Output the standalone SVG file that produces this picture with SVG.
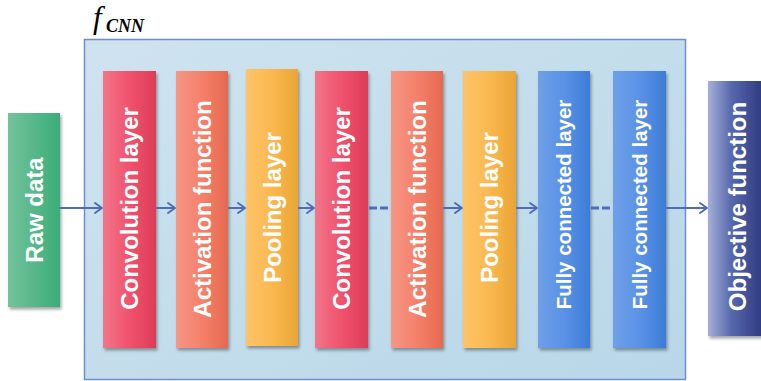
<svg xmlns="http://www.w3.org/2000/svg" width="761" height="381" viewBox="0 0 761 381">
  <defs>
    <linearGradient id="gFrame" x1="0" y1="0" x2="1" y2="1">
      <stop offset="0" stop-color="#cfe3ef"/>
      <stop offset="1" stop-color="#b8d7e8"/>
    </linearGradient>
    <linearGradient id="gGreen" x1="0" y1="0" x2="1" y2="0">
      <stop offset="0" stop-color="#74c39b"/>
      <stop offset="1" stop-color="#3aad79"/>
    </linearGradient>
    <linearGradient id="gConv" x1="0" y1="0" x2="1" y2="0">
      <stop offset="0" stop-color="#f2768a"/>
      <stop offset="0.5" stop-color="#f0526d"/>
      <stop offset="1" stop-color="#dd3c58"/>
    </linearGradient>
    <linearGradient id="gAct" x1="0" y1="0" x2="1" y2="0">
      <stop offset="0" stop-color="#f59785"/>
      <stop offset="0.5" stop-color="#f5806a"/>
      <stop offset="1" stop-color="#e5694f"/>
    </linearGradient>
    <linearGradient id="gPool" x1="0" y1="0" x2="1" y2="0">
      <stop offset="0" stop-color="#fec468"/>
      <stop offset="0.5" stop-color="#fbb850"/>
      <stop offset="1" stop-color="#e9a534"/>
    </linearGradient>
    <linearGradient id="gFC" x1="0" y1="0" x2="1" y2="0">
      <stop offset="0" stop-color="#6fa0e8"/>
      <stop offset="0.5" stop-color="#5a92e6"/>
      <stop offset="1" stop-color="#3d7cd6"/>
    </linearGradient>
    <linearGradient id="gObj" x1="0" y1="0" x2="1" y2="0">
      <stop offset="0" stop-color="#a5afd8"/>
      <stop offset="0.4" stop-color="#5868ad"/>
      <stop offset="1" stop-color="#28357a"/>
    </linearGradient>
    <filter id="shadow" x="-20%" y="-10%" width="150%" height="125%">
      <feDropShadow dx="1.5" dy="2.5" stdDeviation="1.5" flood-color="#000" flood-opacity="0.35"/>
    </filter>
    <marker id="arrow" markerUnits="userSpaceOnUse" markerWidth="12" markerHeight="14" refX="9" refY="7" orient="auto">
      <path d="M2,2 L9,7 L2,12" fill="none" stroke="#4f6cbc" stroke-width="2" stroke-linecap="round" stroke-linejoin="round"/>
    </marker>
  </defs>
  <style>
    .lbl { font-family: "Liberation Sans", Arial, sans-serif; font-weight: bold; font-size: 24px; fill: #ffffff; text-anchor: middle; }
    .fc { font-size: 20.5px; }
    .box { filter: url(#shadow); }
    .conn { stroke: #4f6cbc; stroke-width: 2; fill: none; }
    .dash { stroke-width: 3; stroke-dasharray: 8 3; }
  </style>

  <g id="frame">
    <rect x="84.5" y="39.5" width="601" height="340" fill="url(#gFrame)" stroke="#6f8fc9" stroke-width="1.5"/>
    <text x="93" y="28" font-family="Liberation Serif, 'Times New Roman', serif" font-style="italic" font-size="31" fill="#000">f</text>
    <text x="106" y="32" font-family="Liberation Serif, 'Times New Roman', serif" font-style="italic" font-weight="bold" font-size="18" fill="#000">CNN</text>
  </g>

  <g id="raw-data">
    <rect class="box" x="8" y="113" width="52" height="194" fill="url(#gGreen)"/>
    <text class="lbl" transform="translate(34,210) rotate(-90)" dy="8.5">Raw data</text>
  </g>
  <g id="conv1">
    <rect class="box" x="103" y="71" width="53" height="277" fill="url(#gConv)"/>
    <text class="lbl" transform="translate(129.5,208.5) rotate(-90)" dy="8.5">Convolution layer</text>
  </g>
  <g id="act1">
    <rect class="box" x="176" y="71" width="52" height="277" fill="url(#gAct)"/>
    <text class="lbl" transform="translate(202,209) rotate(-90)" dy="8.5">Activation function</text>
  </g>
  <g id="pool1">
    <rect class="box" x="246" y="69" width="52" height="277" fill="url(#gPool)"/>
    <text class="lbl" transform="translate(272,207.5) rotate(-90)" dy="8.5">Pooling layer</text>
  </g>
  <g id="conv2">
    <rect class="box" x="315" y="71" width="53" height="277" fill="url(#gConv)"/>
    <text class="lbl" transform="translate(341.5,208.5) rotate(-90)" dy="8.5">Convolution layer</text>
  </g>
  <g id="act2">
    <rect class="box" x="391" y="71" width="52" height="277" fill="url(#gAct)"/>
    <text class="lbl" transform="translate(417,209) rotate(-90)" dy="8.5">Activation function</text>
  </g>
  <g id="pool2">
    <rect class="box" x="463" y="71" width="53" height="277" fill="url(#gPool)"/>
    <text class="lbl" transform="translate(489.5,207.5) rotate(-90)" dy="8.5">Pooling layer</text>
  </g>
  <g id="fc1">
    <rect class="box" x="538" y="71" width="52" height="277" fill="url(#gFC)"/>
    <text class="lbl fc" transform="translate(564,204.5) rotate(-90)" dy="7.3">Fully connected layer</text>
  </g>
  <g id="fc2">
    <rect class="box" x="613" y="71" width="53" height="277" fill="url(#gFC)"/>
    <text class="lbl fc" transform="translate(639.5,204.5) rotate(-90)" dy="7.3">Fully connected layer</text>
  </g>
  <g id="objective">
    <rect class="box" x="708" y="81" width="58" height="255" fill="url(#gObj)"/>
    <text class="lbl" transform="translate(737,206.5) rotate(-90)" dy="8.5">Objective function</text>
  </g>

  <g id="connectors">
    <line class="conn" x1="60" y1="208" x2="102" y2="208" marker-end="url(#arrow)"/>
    <line class="conn" x1="156" y1="208" x2="175" y2="208" marker-end="url(#arrow)"/>
    <line class="conn" x1="228" y1="208" x2="245" y2="208" marker-end="url(#arrow)"/>
    <line class="conn" x1="298" y1="208" x2="314" y2="208" marker-end="url(#arrow)"/>
    <line class="conn dash" x1="369" y1="208" x2="391" y2="208"/>
    <line class="conn" x1="443" y1="208" x2="462" y2="208" marker-end="url(#arrow)"/>
    <line class="conn" x1="516" y1="208" x2="537" y2="208" marker-end="url(#arrow)"/>
    <line class="conn dash" x1="591" y1="208" x2="613" y2="208"/>
    <line class="conn" x1="666" y1="208" x2="707" y2="208" marker-end="url(#arrow)"/>
  </g>
</svg>
